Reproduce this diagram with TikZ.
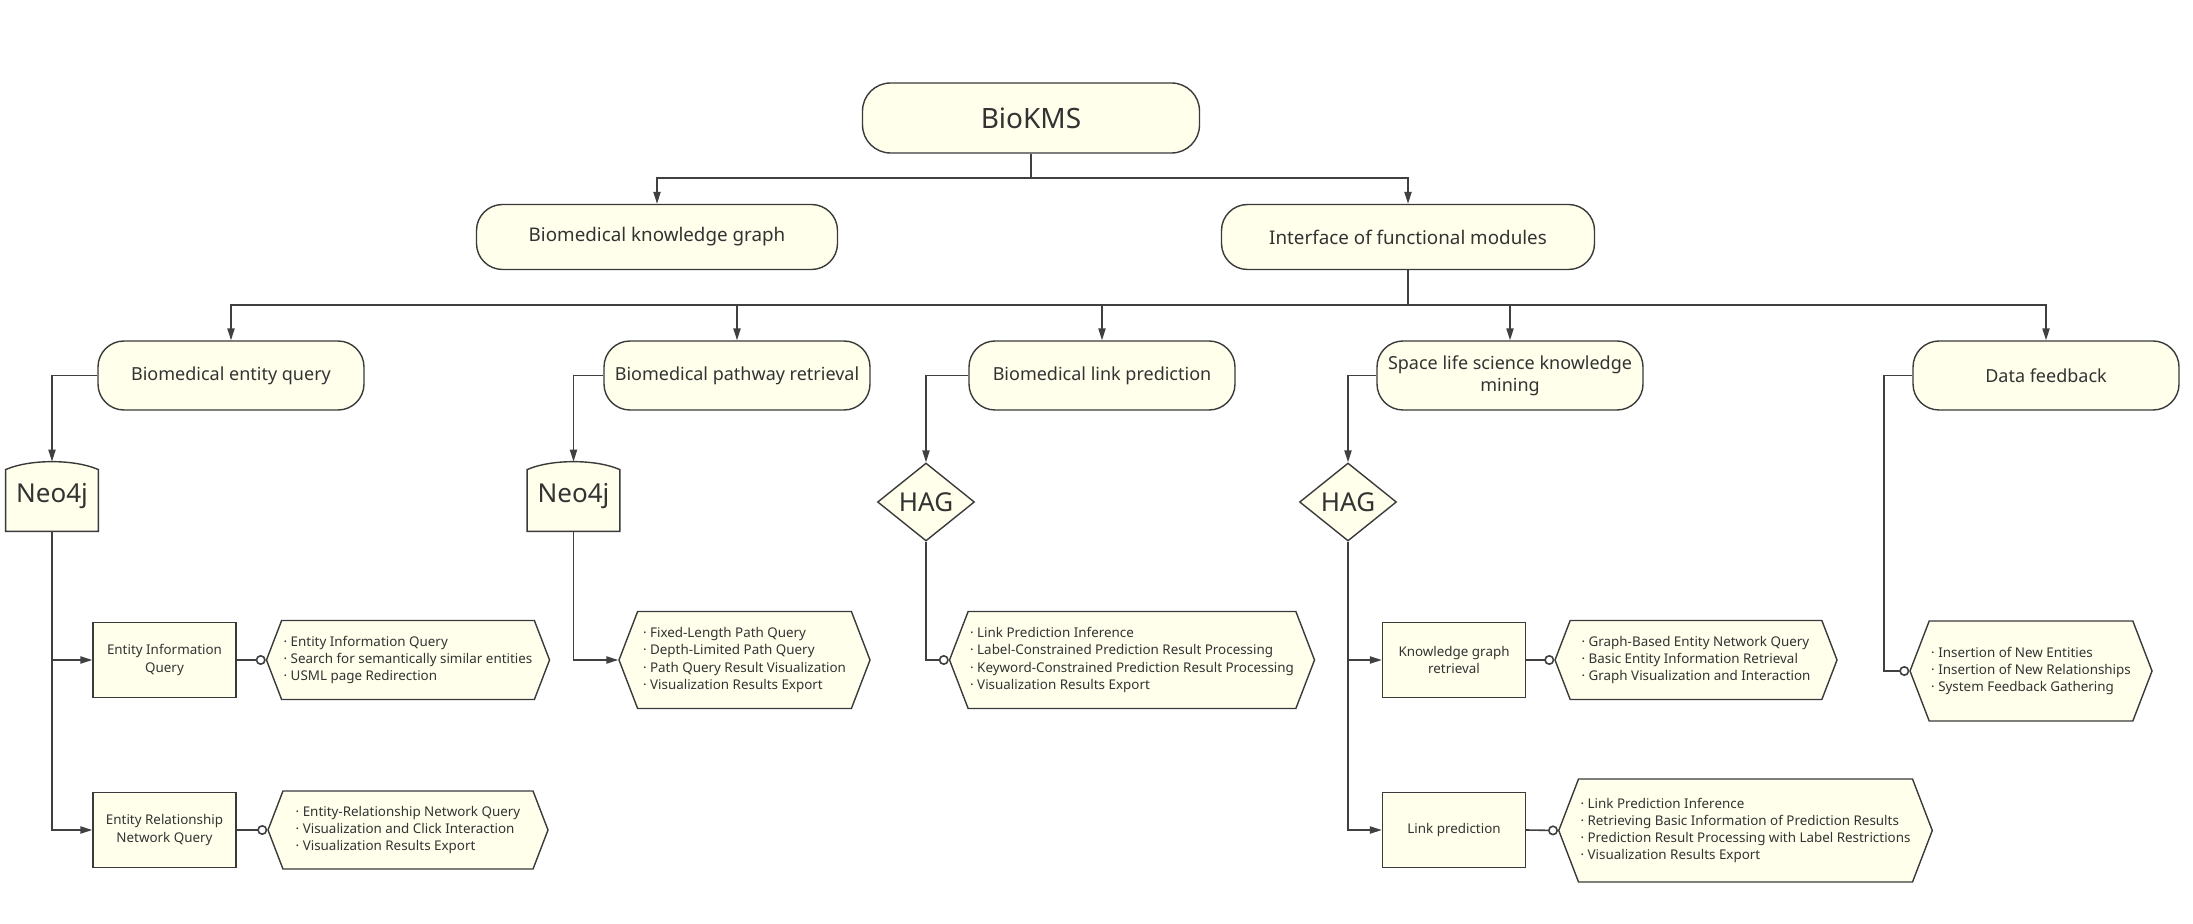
\documentclass[tikz,border=0pt]{standalone}
\usepackage{fontspec}
\setmainfont{Noto Sans}
\usetikzlibrary{arrows.meta, shapes.geometric, shapes.symbols, backgrounds}
\usepackage{xcolor}
\definecolor{boxfill}{RGB}{255,255,236}
\definecolor{boxline}{RGB}{58,58,58}
\definecolor{arrcol}{RGB}{64,64,64}
\definecolor{txtcol}{RGB}{51,51,51}
\newcommand{\itemfont}{\fontsize{6.7}{8.6}\selectfont}
\newcommand{\itm}[1]{\textperiodcentered\ #1}

\begin{document}
\begin{tikzpicture}[
  x=50pt, y=-50pt,
  root/.style={
    draw=boxline, fill=boxfill, rounded corners=14pt, line width=0.7pt,
    minimum width=168.5pt, minimum height=35pt, text=txtcol,
    font=\fontsize{14}{17}\selectfont
  },
  module/.style={
    draw=boxline, fill=boxfill, rounded corners=13pt, line width=0.7pt,
    minimum height=32.5pt, align=center, text=txtcol,
    font=\fontsize{9.4}{11.5}\selectfont
  },
  submodule/.style={
    module, minimum width=133pt, minimum height=34.5pt,
    font=\fontsize{9}{11}\selectfont
  },
  store/.style={
    minimum width=46pt, minimum height=34.5pt, inner sep=0pt, text=txtcol,
    font=\fontsize{13}{15}\selectfont
  },
  storeline/.style={draw=boxline, fill=boxfill, line width=0.7pt},
  model/.style={
    diamond, draw=boxline, fill=boxfill, line width=0.7pt, inner sep=0pt,
    minimum width=48.5pt, minimum height=39pt, text=txtcol,
    font=\fontsize{13}{15}\selectfont
  },
  func/.style={
    rectangle, draw=boxline, fill=boxfill, line width=0.7pt,
    minimum width=71.5pt, minimum height=37.5pt, align=center, text=txtcol,
    font=\itemfont
  },
  detail/.style={
    signal, signal to=west and east, signal pointer angle=138,
    draw=boxline, fill=boxfill, line width=0.7pt, align=left, text=txtcol,
    inner xsep=1pt, inner ysep=2pt, font=\itemfont
  },
  arr/.style={-{Triangle[length=6pt, width=3.6pt]}, line width=0.8pt, color=arrcol},
  dot/.style={-{Circle[open, length=5pt, width=5pt]}, line width=0.8pt, color=arrcol},
]
\useasboundingbox (0,0) rectangle (21.93,9.24);

% --- Top levels ---
\node[root] (kms) at (10.31,1.18) {BioKMS};
\node[module, minimum width=180.5pt] (bkg) at (6.57,2.37) {Biomedical knowledge graph};
\node[module, minimum width=186.5pt] (ifm) at (14.08,2.37) {Interface of functional modules};

\node[submodule] (beq) at (2.31,3.755) {Biomedical entity query};
\node[submodule] (bpr) at (7.37,3.755) {Biomedical pathway retrieval};
\node[submodule] (blp) at (11.02,3.755) {Biomedical link prediction};
\node[submodule] (sls) at (15.10,3.755) {Space life science knowledge\\mining};
\node[submodule] (dfb) at (20.46,3.755) {Data feedback};

% --- Back ends ---
\node[store] (neoA) at (0.52,4.965) {Neo4j};
\node[store] (neoB) at (5.735,4.965) {Neo4j};
\node[model] (hagA) at (9.26,5.02) {HAG};
\node[model] (hagB) at (13.48,5.02) {HAG};

\begin{scope}[on background layer]
  \draw[storeline] ([yshift=-4pt]neoA.north west)
    .. controls ([xshift=12pt, yshift=1.3pt]neoA.north west) and ([xshift=-12pt, yshift=1.3pt]neoA.north east)
    .. ([yshift=-4pt]neoA.north east) -- (neoA.south east) -- (neoA.south west) -- cycle;
  \draw[storeline] ([yshift=-4pt]neoB.north west)
    .. controls ([xshift=12pt, yshift=1.3pt]neoB.north west) and ([xshift=-12pt, yshift=1.3pt]neoB.north east)
    .. ([yshift=-4pt]neoB.north east) -- (neoB.south east) -- (neoB.south west) -- cycle;
\end{scope}

% --- Functions ---
\node[func] (eiq)  at (1.645,6.60) {Entity Information\\Query};
\node[func] (ernq) at (1.645,8.30) {Entity Relationship\\Network Query};
\node[func] (kgr)  at (14.54,6.60) {Knowledge graph\\retrieval};
\node[func] (lkp)  at (14.54,8.30) {Link prediction};

\node[detail, minimum width=140pt, minimum height=39.5pt] (eiqd) at (4.08,6.60)
  {\itm{Entity Information Query}\\\itm{Search for semantically similar entities}\\\itm{USML page Redirection}};
\node[detail, minimum width=140pt, minimum height=39pt] (ernqd) at (4.08,8.30)
  {\itm{Entity-Relationship Network Query}\\\itm{Visualization and Click Interaction}\\\itm{Visualization Results Export}};
\node[detail, minimum width=125.5pt, minimum height=48.5pt] (bprd) at (7.445,6.60)
  {\itm{Fixed-Length Path Query}\\\itm{Depth-Limited Path Query}\\\itm{Path Query Result Visualization}\\\itm{Visualization Results Export}};
\node[detail, minimum width=181pt, minimum height=48.5pt] (blpd) at (11.32,6.60)
  {\itm{Link Prediction Inference}\\\itm{Label-Constrained Prediction Result Processing}\\\itm{Keyword-Constrained Prediction Result Processing}\\\itm{Visualization Results Export}};
\node[detail, minimum width=141pt, minimum height=39.5pt] (kgrd) at (16.96,6.60)
  {\itm{Graph-Based Entity Network Query}\\\itm{Basic Entity Information Retrieval}\\\itm{Graph Visualization and Interaction}};
\node[detail, minimum width=186.5pt, minimum height=51.5pt] (lkpd) at (17.455,8.305)
  {\itm{Link Prediction Inference}\\\itm{Retrieving Basic Information of Prediction Results}\\\itm{Prediction Result Processing with Label Restrictions}\\\itm{Visualization Results Export}};
\node[detail, minimum width=114pt, minimum height=50pt] (dfbd) at (20.31,6.71)
  {\itm{Insertion of New Entities}\\\itm{Insertion of New Relationships}\\\itm{System Feedback Gathering}};

% --- Tree connectors ---
\coordinate (busA) at (10.31,1.78);
\coordinate (busB) at (14.08,3.05);
\coordinate (dfturn) at (18.84,3.755);

\draw[arr] (kms.south) -- (busA) -| (bkg.north);
\draw[arr] (busA) -| (ifm.north);

\draw[arr] (ifm.south) -- (busB) -| (beq.north);
\draw[arr] (busB) -| (bpr.north);
\draw[arr] (busB) -| (blp.north);
\draw[arr] (busB) -| (sls.north);
\draw[arr] (busB) -| (dfb.north);

\draw[arr] (beq.west) -| (neoA.north);
\draw[arr] (bpr.west) -| (neoB.north);
\draw[arr] (blp.west) -| (hagA.north);
\draw[arr] (sls.west) -| (hagB.north);

% --- Branches ---
\draw[arr] (neoA.south) |- (eiq.west);
\draw[arr] (neoA.south) |- (ernq.west);
\draw[arr] (neoB.south) |- (bprd.west);
\draw[dot] (hagA.south) |- (blpd.west);
\draw[arr] (hagB.south) |- (kgr.west);
\draw[arr] (hagB.south) |- (lkp.west);
\draw[dot] (dfb.west) -- (dfturn) |- (dfbd.west);

\draw[dot] (eiq.east) -- (eiqd.west);
\draw[dot] (ernq.east) -- (ernqd.west);
\draw[dot] (kgr.east) -- (kgrd.west);
\draw[dot] (lkp.east) -- (lkpd.west);

\end{tikzpicture}
\end{document}
